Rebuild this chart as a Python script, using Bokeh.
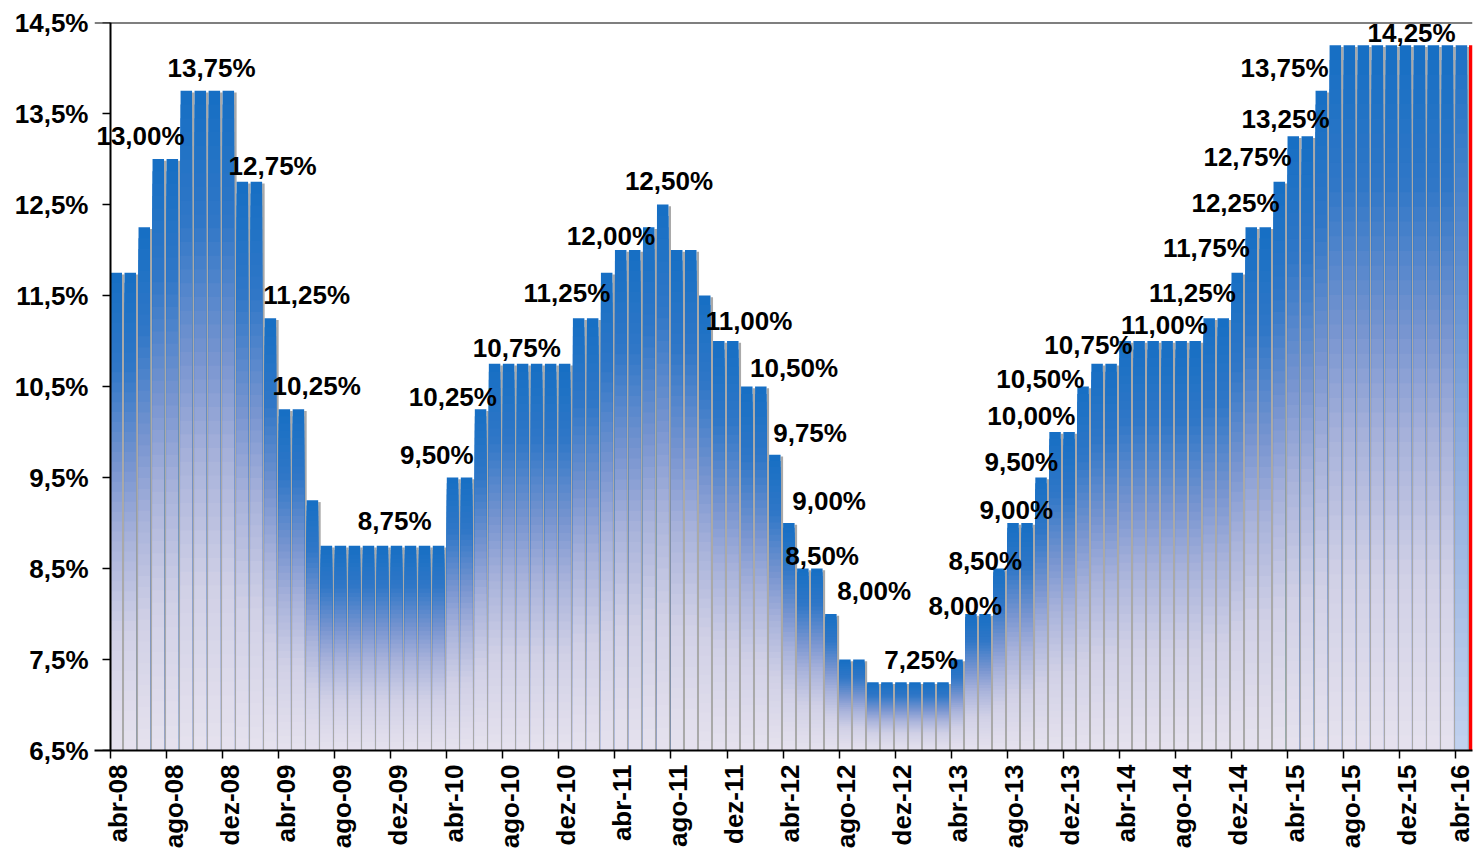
import math
from bokeh.plotting import figure
from bokeh.models import FixedTicker, LinearAxis, Range1d, ColumnDataSource, Span, Label
from bokeh.embed import file_html
from bokeh.resources import INLINE

# ---------------- data ----------------
# Selic target rate at month end, abr-08 .. abr-16
selic = [
    11.75, 11.75, 12.25, 13.00, 13.00, 13.75, 13.75, 13.75, 13.75,      # abr-08 .. dez-08
    12.75, 12.75, 11.25, 10.25, 10.25, 9.25, 8.75, 8.75, 8.75, 8.75, 8.75, 8.75,  # 2009
    8.75, 8.75, 8.75, 9.50, 9.50, 10.25, 10.75, 10.75, 10.75, 10.75, 10.75, 10.75,  # 2010
    11.25, 11.25, 11.75, 12.00, 12.00, 12.25, 12.50, 12.00, 12.00, 11.50, 11.00, 11.00,  # 2011
    10.50, 10.50, 9.75, 9.00, 8.50, 8.50, 8.00, 7.50, 7.50, 7.25, 7.25, 7.25,  # 2012
    7.25, 7.25, 7.25, 7.50, 8.00, 8.00, 8.50, 9.00, 9.00, 9.50, 10.00, 10.00,  # 2013
    10.50, 10.75, 10.75, 11.00, 11.00, 11.00, 11.00, 11.00, 11.00, 11.25, 11.25, 11.75,  # 2014
    12.25, 12.25, 12.75, 13.25, 13.25, 13.75, 14.25, 14.25, 14.25, 14.25, 14.25, 14.25,  # 2015
    14.25, 14.25, 14.25, 14.25,  # 2016
]

x_tick_labels = [
    "abr-08", "ago-08", "dez-08", "abr-09", "ago-09", "dez-09", "abr-10", "ago-10",
    "dez-10", "abr-11", "ago-11", "dez-11", "abr-12", "ago-12", "dez-12", "abr-13",
    "ago-13", "dez-13", "abr-14", "ago-14", "dez-14", "abr-15", "ago-15", "dez-15", "abr-16",
]
tick_step = 4  # one label every 4 months

y_ticks = [6.5, 7.5, 8.5, 9.5, 10.5, 11.5, 12.5, 13.5, 14.5]
y_tick_labels = ["6,5%", "7,5%", "8,5%", "9,5%", "10,5%", "11,5%", "12,5%", "13,5%", "14,5%"]

# bars that carry a value label
label_bars = [3, 5, 9, 11, 12, 15, 24, 26, 27, 33, 36, 39, 43, 45, 47, 48, 49, 51, 54,
              61, 63, 64, 66, 67, 69, 70, 72, 78, 80, 81, 83, 84, 86, 87]

# ---------------- styling ----------------
# label offsets in screen pixels (dx right, dy down) from the bar's top centre
label_dx = [-19, 24, 29, 35, 31, 67, -17, -29, 21, -13, -11, 5, 29, 46, 34, 39, 18, 42, 47,
            -7, -15, 2, -21, -25, -44, -10, 38, -18, -32, -17, -33, -9, -38, 75]
label_dy = [-23, -23, -16, -23, -23, -25, -23, -12, -16, -25, -14, -24, -20, -19, -22, -22, -13, -23, -22,
            -8, -8, -13, -16, -16, -8, -19, -16, -25, -25, -24, -25, -17, -23, -12]

FONT = "Liberation Sans"
Y0, Y1 = 6.5, 14.5
X_PAD = -1.142      # blank strip left of the value axis (room for the first label)
X_END = 97.2
PX_PER_UNIT = 14.01
TICK_LEN = 8 / PX_PER_UNIT
BAR_W = 0.82
N_STRIPS = 48

stops_main = [(0.0, (22, 111, 196)), (0.2, (48, 119, 199)), (0.4, (118, 148, 208)),
              (0.55, (166, 177, 218)), (0.75, (208, 208, 230)), (1.0, (230, 226, 238))]
stops_last = [(0.0, (28, 112, 196)), (0.3, (92, 140, 206)), (0.55, (140, 170, 220)),
              (1.0, (194, 210, 238))]


def grad(stops, t):
    for (t0, c0), (t1, c1) in zip(stops[:-1], stops[1:]):
        if t <= t1:
            f = (t - t0) / (t1 - t0) if t1 > t0 else 0
            return "#%02x%02x%02x" % tuple(int(round(a + (b - a) * f)) for a, b in zip(c0, c1))
    return "#%02x%02x%02x" % stops[-1][1]


def fmt_pct(v):
    return ("%.2f%%" % v).replace(".", ",")


n = len(selic)

# gradient: for each bar a stack of ever shorter quads (all anchored at the base),
# so that there are no seams between colour bands
L, R, B, T, C = [], [], [], [], []
for k in range(N_STRIPS):
    for i, v in enumerate(selic):
        stops = stops_last if i == n - 1 else stops_main
        h = (v - Y0) / N_STRIPS
        L.append(i)
        R.append(i + BAR_W)
        B.append(Y0)
        T.append(v - k * h)
        C.append(grad(stops, (k + 0.5) / N_STRIPS))
strips = ColumnDataSource(dict(left=L, right=R, bottom=B, top=T, color=C))

shadow = ColumnDataSource(dict(
    left=[i + BAR_W for i in range(n)],
    right=[i + 1.0 for i in range(n)],
    bottom=[Y0] * n,
    top=[v - 0.02 for v in selic],
))

# ---------------- figure ----------------
p = figure(width=1474, height=854, output_backend="svg", toolbar_location=None,
           x_range=Range1d(X_PAD, X_END), y_range=Range1d(Y0, Y1),
           min_border_left=94, min_border_top=22, min_border_right=2, min_border_bottom=104)
p.outline_line_color = None
p.xgrid.grid_line_color = None
p.ygrid.grid_line_color = None
p.background_fill_color = "white"

p.quad(left="left", right="right", bottom="bottom", top="top", source=shadow,
       fill_color="#a9a9a9", line_color=None)
p.quad(left="left", right="right", bottom="bottom", top="top", source=strips,
       fill_color="color", line_color=None)
p.quad(left=[n - 0.05], right=[X_END], bottom=[Y0], top=[selic[-1]],
       fill_color="#ff0000", line_color=None)

for i, dx, dy in zip(label_bars, label_dx, label_dy):
    p.add_layout(Label(x=i + 0.5, y=selic[i], text=fmt_pct(selic[i]),
                       x_offset=dx, y_offset=-dy,
                       text_font=FONT, text_font_style="bold", text_font_size="26px",
                       text_color="black", text_align="center", text_baseline="middle"))

# frame lines: top border and the value-axis line at x = 0, with its tick marks
p.add_layout(Span(location=Y1, dimension="width", line_color="black", line_width=2))
p.add_layout(Span(location=0, dimension="height", line_color="black", line_width=2))
p.segment(x0=[-TICK_LEN] * len(y_ticks), x1=[0] * len(y_ticks), y0=y_ticks, y1=y_ticks,
          line_color="black", line_width=1.5)

# y axis (labels only)
ya = p.yaxis[0]
ya.ticker = FixedTicker(ticks=y_ticks)
ya.major_label_overrides = {t: s for t, s in zip(y_ticks, y_tick_labels)}
ya.major_label_text_font = FONT
ya.major_label_text_font_style = "bold"
ya.major_label_text_font_size = "26px"
ya.major_label_text_color = "black"
ya.major_tick_out = 0
ya.major_tick_in = 0
ya.minor_tick_line_color = None
ya.axis_line_color = None
ya.major_tick_line_color = None
ya.major_label_standoff = 6

# x axis: tick marks at month boundaries
boundary_ticks = [k * tick_step for k in range(len(x_tick_labels))]
xa = p.xaxis[0]
xa.ticker = FixedTicker(ticks=boundary_ticks)
xa.major_label_overrides = {t: "" for t in boundary_ticks}
xa.major_label_text_font_size = "0px"
xa.major_label_standoff = 0
xa.major_tick_out = 8
xa.major_tick_in = 0
xa.minor_tick_line_color = None
xa.axis_line_color = "black"
xa.axis_line_width = 2
xa.major_tick_line_color = "black"
xa.major_tick_line_width = 1.5

# x axis: labels centred on the bars
center_ticks = [t + 0.5 for t in boundary_ticks]
xl = LinearAxis(ticker=FixedTicker(ticks=center_ticks),
                major_label_overrides={t: s for t, s in zip(center_ticks, x_tick_labels)},
                major_label_orientation=math.pi / 2,
                major_label_text_font=FONT, major_label_text_font_style="bold",
                major_label_text_font_size="26px", major_label_text_color="black",
                major_tick_out=0, major_tick_in=0, minor_tick_line_color=None,
                major_tick_line_color=None, axis_line_color=None, major_label_standoff=6)
p.add_layout(xl, "below")

open("out.html", "w").write(file_html(p, INLINE))
